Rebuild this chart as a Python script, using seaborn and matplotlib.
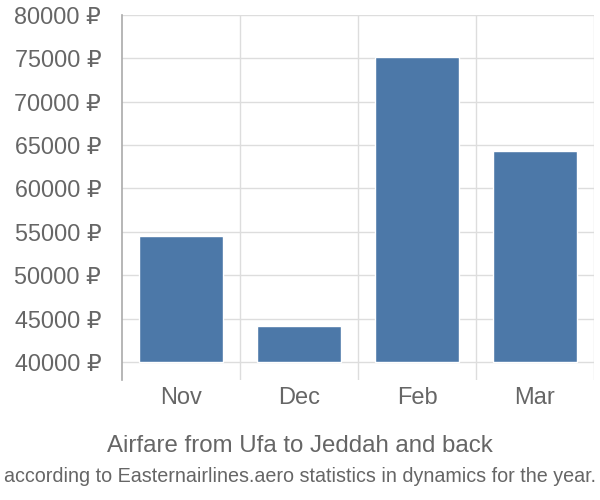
import matplotlib
matplotlib.use("Agg")
import matplotlib.pyplot as plt
import seaborn as sns
import pandas as pd
from matplotlib.ticker import FixedLocator, FuncFormatter

months = ["Nov", "Dec", "Feb", "Mar"]
prices = [54500, 44120, 75190, 64310]
baseline = 40000
yticks = [40000, 45000, 50000, 55000, 60000, 65000, 70000, 75000, 80000]
title = "Airfare from Ufa to Jeddah and back"
subtitle = "according to Easternairlines.aero statistics in dynamics for the year."

sns.set_style("white")
plt.rcParams['font.family'] = ['Liberation Sans', 'DejaVu Sans']

df = pd.DataFrame({"month": months, "height": [p - baseline for p in prices]})

fig = plt.figure(figsize=(6, 5), dpi=100)
ax = fig.add_axes([122/600, 1 - 380/500, (594 - 122)/600, (380 - 15)/500])

sns.barplot(data=df, x="month", y="height", bottom=baseline, color="#4c78a8",
            saturation=1, width=0.71, ax=ax, zorder=3)

ax.set_ylim(37925, 80000)
ax.set_xlim(-0.5, 3.5)
ax.yaxis.set_major_locator(FixedLocator(yticks))
ax.yaxis.set_major_formatter(FuncFormatter(lambda v, p: f"{int(v)} ₽"))
ax.grid(axis="y", color="#dddddd", linewidth=1, zorder=0)
ax.tick_params(axis="y", length=14, color="#dddddd", width=1, pad=1,
               labelsize=16.8, labelcolor="#666666")
ax.set_xticks(range(len(months)))
ax.set_xticklabels(months)
ax.tick_params(axis="x", which="major", length=0, pad=5, labelsize=17, labelcolor="#666666")
ax.set_xticks([0.5, 1.5, 2.5, 3.5], minor=True)
ax.tick_params(axis="x", which="minor", length=0)
ax.grid(axis="x", which="minor", color="#dddddd", linewidth=1, zorder=0)
ax.set_xlabel("")
ax.set_ylabel("")
for s in ["top", "right", "bottom"]:
    ax.spines[s].set_visible(False)
ax.spines["left"].set_color("#aaaaaa")
ax.spines["left"].set_linewidth(1.2)

fig.text(0.5, 1 - 446/500, title, ha="center", va="center", fontsize=17.3, color="#666666")
fig.text(0.5, 1 - 477/500, subtitle, ha="center", va="center", fontsize=14.2, color="#666666")

fig.savefig("out.png", dpi=100)
